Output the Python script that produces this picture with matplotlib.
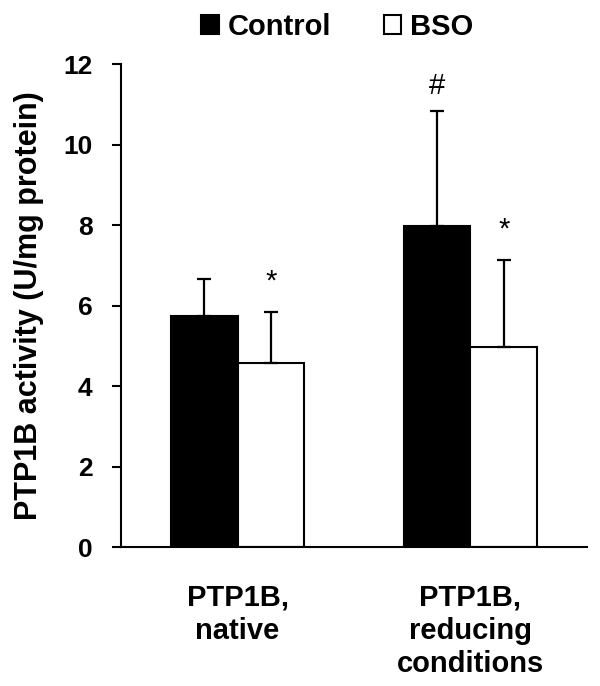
import matplotlib.pyplot as plt
import numpy as np
from matplotlib.patches import Patch

plt.rcParams['font.family'] = ['Liberation Sans', 'DejaVu Sans']
plt.rcParams['font.weight'] = 'bold'

categories = ['PTP1B,\nnative', 'PTP1B,\nreducing\nconditions']
control = [5.75, 7.98]
control_err = [0.90, 2.85]
bso = [4.56, 4.96]
bso_err = [1.29, 2.17]
control_marks = ['', '#']
bso_marks = ['*', '*']

fig = plt.figure(figsize=(6, 6.86), dpi=100)
ax = fig.add_axes([0.2017, 0.2026, 0.7766, 0.7041])

x = np.arange(len(categories))
w = 0.285
ekw = dict(elinewidth=1.6, capthick=1.6, ecolor='black')

ax.bar(x - w / 2, control, w, color='black', edgecolor='black', linewidth=1.5,
       yerr=[[0, 0], control_err], capsize=4.7, error_kw=ekw)
ax.bar(x + w / 2, bso, w, color='white', edgecolor='black', linewidth=1.5,
       yerr=[[0, 0], bso_err], capsize=4.7, error_kw=ekw)

# significance marks above the error bars
for i in range(len(categories)):
    if control_marks[i]:
        ax.text(x[i] - w / 2, control[i] + control_err[i] + 0.42, control_marks[i],
                ha='center', va='baseline', fontsize=21, fontweight='normal')
    if bso_marks[i]:
        ax.text(x[i] + w / 2, bso[i] + bso_err[i] + 0.55, bso_marks[i],
                ha='center', va='baseline', fontsize=21, fontweight='normal')

ax.set_xlim(-0.5, 1.5)
ax.set_ylim(0, 12)
ax.set_yticks([0, 2, 4, 6, 8, 10, 12])
ax.set_xticks(x)
ax.set_xticklabels(categories, fontsize=21, fontweight='bold', linespacing=1.25)
ax.tick_params(axis='x', length=0, pad=26)
ax.tick_params(axis='y', length=6.5, width=1.5, labelsize=19, pad=14)
for lab in ax.get_yticklabels():
    lab.set_fontweight('bold')
ax.spines['top'].set_visible(False)
ax.spines['right'].set_visible(False)
ax.spines['left'].set_linewidth(1.5)
ax.spines['bottom'].set_linewidth(1.5)
ax.set_ylabel('PTP1B activity (U/mg protein)', fontsize=22, fontweight='bold')
ax.yaxis.set_label_coords(-0.165, 0.5)

handles = [Patch(facecolor='black', edgecolor='black', linewidth=1.5),
           Patch(facecolor='white', edgecolor='black', linewidth=1.5)]
fig.legend(handles, ['Control', 'BSO'], loc='center', bbox_to_anchor=(0.562, 0.961),
           ncol=2, frameon=False, prop=dict(size=21, weight='bold'),
           handlelength=0.6, handleheight=0.6, handletextpad=0.3, columnspacing=1.8,
           borderpad=0)

fig.savefig('out.png', dpi=100)
